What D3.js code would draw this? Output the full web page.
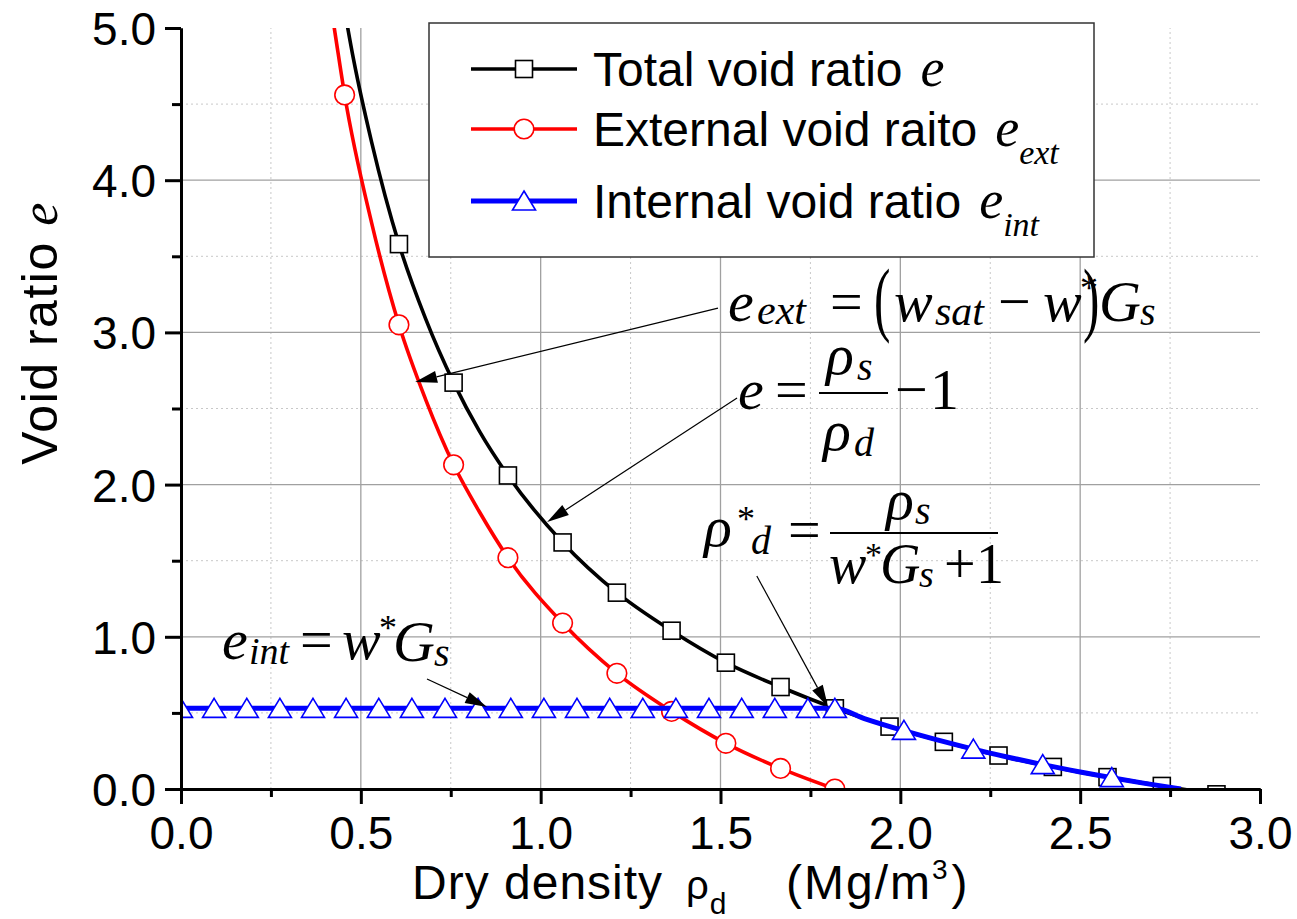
<!DOCTYPE html>
<html><head><meta charset="utf-8">
<script src="https://cdn.jsdelivr.net/npm/d3@7"></script>
<style>body{margin:0;background:#fff} svg{display:block}</style>
</head><body><svg id="c" width="1297" height="919"></svg>
<script>
// ---------------- data ----------------
const xTicks = [0.0, 0.5, 1.0, 1.5, 2.0, 2.5, 3.0];
const xMinorTicks = [0.25, 0.75, 1.25, 1.75, 2.25, 2.75];
const yTicks = [0.0, 1.0, 2.0, 3.0, 4.0, 5.0];
const yMinorTicks = [0.5, 1.5, 2.5, 3.5, 4.5];

// Total void ratio e (markers)
const rhoTotal = [0.606,0.758,0.909,1.061,1.212,1.364,1.515,1.667,1.818,1.970,2.121,2.273,2.424,2.576,2.727,2.879];
const eTotal   = [3.58,2.67,2.06,1.62,1.29,1.04,0.83,0.67,0.53,0.41,0.31,0.22,0.145,0.078,0.02,-0.035];
// Total void ratio e (line)
const rhoTotalLine = [0.44,0.48,0.53,0.606,0.68,0.758,0.83,0.909,1.061,1.212,1.364,1.515,1.667,1.818,1.970,2.121,2.273,2.424,2.576,2.727,2.879];
const eTotalLine   = [5.32,4.79,4.25,3.58,3.09,2.67,2.35,2.06,1.62,1.29,1.04,0.83,0.67,0.53,0.41,0.31,0.22,0.145,0.078,0.02,-0.035];

// External void ratio e_ext (markers)
const rhoExt = [0.455,0.606,0.758,0.909,1.061,1.212,1.364,1.515,1.667,1.818];
const eExt   = [4.56,3.05,2.13,1.52,1.09,0.76,0.51,0.30,0.135,0.0];
// External void ratio e_ext (line)
const rhoExtLine = [0.41,0.43,0.455,0.53,0.606,0.68,0.758,0.83,0.909,1.061,1.212,1.364,1.515,1.667,1.818];
const eExtLine   = [5.25,4.94,4.56,3.72,3.05,2.56,2.13,1.82,1.52,1.09,0.76,0.51,0.30,0.135,0.0];

// Internal void ratio e_int (markers)
const rhoInt = [0.000,0.092,0.183,0.275,0.367,0.459,0.550,0.642,0.734,0.826,0.917,1.009,1.101,1.192,1.284,1.376,1.468,1.559,1.651,1.743,1.818,2.010,2.203,2.396,2.588];
const eInt   = [0.53,0.53,0.53,0.53,0.53,0.53,0.53,0.53,0.53,0.53,0.53,0.53,0.53,0.53,0.53,0.53,0.53,0.53,0.53,0.53,0.53,0.385,0.262,0.160,0.075];
// Internal void ratio e_int (line)
const rhoIntLine = [0.0,1.818,1.9,2.010,2.1,2.203,2.3,2.396,2.5,2.588,2.68,2.78];
const eIntLine   = [0.53,0.53,0.463,0.383,0.324,0.262,0.209,0.160,0.112,0.074,0.037,0.0];

// ---------------- layout ----------------
const svg = d3.select('#c');
const X0 = 181, X1 = 1260, Y0 = 789, Y1 = 28;
const x = d3.scaleLinear().domain([0, 3]).range([X0, X1]);
const y = d3.scaleLinear().domain([0, 5]).range([Y0, Y1]);
const SANS = '"Liberation Sans", Arial, sans-serif';
const SERIF = '"Liberation Serif", "Times New Roman", serif';

svg.append('rect').attr('width', 1297).attr('height', 919).attr('fill', '#fff');

// grid
const grid = svg.append('g');
grid.selectAll('.vmin').data(xMinorTicks).join('line')
  .attr('x1', d => x(d)).attr('x2', d => x(d)).attr('y1', Y0).attr('y2', Y1)
  .attr('stroke', '#c8c8c8').attr('stroke-width', 1).attr('stroke-dasharray', '2,3');
grid.selectAll('.hmin').data(yMinorTicks).join('line')
  .attr('x1', X0).attr('x2', X1).attr('y1', d => y(d)).attr('y2', d => y(d))
  .attr('stroke', '#c8c8c8').attr('stroke-width', 1).attr('stroke-dasharray', '2,3');
grid.selectAll('.vmaj').data(xTicks.filter(d => d > 0 && d < 3)).join('line')
  .attr('x1', d => x(d)).attr('x2', d => x(d)).attr('y1', Y0).attr('y2', Y1)
  .attr('stroke', '#a0a0a0').attr('stroke-width', 1.3);
grid.selectAll('.hmaj').data(yTicks.filter(d => d > 0 && d < 5)).join('line')
  .attr('x1', X0).attr('x2', X1).attr('y1', d => y(d)).attr('y2', d => y(d))
  .attr('stroke', '#a0a0a0').attr('stroke-width', 1.3);

// clip
svg.append('clipPath').attr('id', 'clip').append('rect')
  .attr('x', X0).attr('y', Y1).attr('width', X1 - X0).attr('height', Y0 - Y1);
const plot = svg.append('g').attr('clip-path', 'url(#clip)');

const line = d3.line().x(d => x(d[0])).y(d => y(d[1])).curve(d3.curveMonotoneX);
const zip = (a, b) => a.map((v, i) => [v, b[i]]);
const triPath = (cx, cy) => `M${cx},${cy - 10}L${cx + 11.5},${cy + 9}L${cx - 11.5},${cy + 9}Z`;

function series(rl, el, rm, em, color, width, marker) {
  const g = plot.append('g');
  g.append('path').datum(zip(rl, el)).attr('d', line)
    .attr('fill', 'none').attr('stroke', color).attr('stroke-width', width).attr('stroke-linejoin', 'round');
  const pts = zip(rm, em);
  if (marker === 'square') {
    g.selectAll('rect').data(pts).join('rect')
      .attr('x', d => x(d[0]) - 8.5).attr('y', d => y(d[1]) - 8.5).attr('width', 17).attr('height', 17)
      .attr('fill', '#fff').attr('stroke', '#000').attr('stroke-width', 1.6);
  } else if (marker === 'circle') {
    g.selectAll('circle').data(pts).join('circle')
      .attr('cx', d => x(d[0])).attr('cy', d => y(d[1])).attr('r', 9.8)
      .attr('fill', '#fff').attr('stroke', color).attr('stroke-width', 1.6);
  } else {
    g.selectAll('path.m').data(pts).join('path').attr('class', 'm')
      .attr('d', d => triPath(x(d[0]), y(d[1])))
      .attr('fill', '#fff').attr('stroke', color).attr('stroke-width', 1.6);
  }
}
series(rhoTotalLine, eTotalLine, rhoTotal, eTotal, '#000', 3.6, 'square');
series(rhoExtLine, eExtLine, rhoExt, eExt, '#ff0000', 3.6, 'circle');
series(rhoIntLine, eIntLine, rhoInt, eInt, '#0000ff', 5, 'triangle');

// axes
const fmt = d3.format('.1f');
const axL = svg.append('g').attr('transform', `translate(${X0},0)`)
  .call(d3.axisLeft(y).tickValues(yTicks).tickFormat(fmt).tickSize(16).tickSizeOuter(0).tickPadding(9));
const axLm = svg.append('g').attr('transform', `translate(${X0},0)`)
  .call(d3.axisLeft(y).tickValues(yMinorTicks).tickFormat('').tickSize(9).tickSizeOuter(0));
const axB = svg.append('g').attr('transform', `translate(0,${Y0})`)
  .call(d3.axisBottom(x).tickValues(xTicks).tickFormat(fmt).tickSize(15).tickSizeOuter(0).tickPadding(12));
const axBm = svg.append('g').attr('transform', `translate(0,${Y0})`)
  .call(d3.axisBottom(x).tickValues(xMinorTicks).tickFormat('').tickSize(8).tickSizeOuter(0));
[axL, axLm, axB, axBm].forEach(a => {
  a.select('.domain').attr('stroke', '#000').attr('stroke-width', 3);
  a.selectAll('.tick line').attr('stroke', '#000').attr('stroke-width', 3);
  a.selectAll('text').attr('font-family', SANS).attr('font-size', 46).attr('fill', '#000');
});
axL.selectAll('text').attr('dy', '0.36em');
axB.selectAll('text').attr('dy', '0.71em');

// axis titles
const yt = svg.append('text').attr('transform', 'translate(57,333) rotate(-90)')
  .attr('text-anchor', 'middle').attr('font-family', SANS).attr('font-size', 50).attr('letter-spacing', 1.5);
yt.append('tspan').text('Void ratio ');
yt.append('tspan').attr('font-family', SERIF).attr('font-style', 'italic').attr('font-size', 52).text('e');

const xt = svg.append('text').attr('x', 412).attr('y', 899).attr('font-family', SANS).attr('font-size', 48).attr('letter-spacing', 1);
xt.append('tspan').text('Dry density');
xt.append('tspan').attr('x', 686).attr('font-size', 40).text('ρ');
xt.append('tspan').attr('dy', 15).attr('font-size', 30).text('d');
xt.append('tspan').attr('x', 786).attr('dy', -15).attr('letter-spacing', 2).text('(Mg/m');
xt.append('tspan').attr('dy', -20).attr('font-size', 28).text('3');
xt.append('tspan').attr('dx', 3).attr('dy', 20).text(')');

// legend
const lg = svg.append('g');
lg.append('rect').attr('x', 429).attr('y', 23).attr('width', 665).attr('height', 234)
  .attr('fill', '#fff').attr('stroke', '#333').attr('stroke-width', 1.5);
const legendRows = [
  {label: 'Total void ratio', sub: '', color: '#000', w: 3.6, marker: 'square', ly: 69, ty: 86},
  {label: 'External void raito', sub: 'ext', color: '#ff0000', w: 3.6, marker: 'circle', ly: 129, ty: 146},
  {label: 'Internal void ratio', sub: 'int', color: '#0000ff', w: 5, marker: 'triangle', ly: 201, ty: 218}
];
legendRows.forEach(r => {
  lg.append('line').attr('x1', 471).attr('x2', 577).attr('y1', r.ly).attr('y2', r.ly)
    .attr('stroke', r.color).attr('stroke-width', r.w);
  const cx = 524, cy = r.ly;
  if (r.marker === 'square') lg.append('rect').attr('x', cx - 8.5).attr('y', cy - 8.5).attr('width', 17).attr('height', 17)
    .attr('fill', '#fff').attr('stroke', '#000').attr('stroke-width', 1.6);
  else if (r.marker === 'circle') lg.append('circle').attr('cx', cx).attr('cy', cy).attr('r', 9.8)
    .attr('fill', '#fff').attr('stroke', r.color).attr('stroke-width', 1.6);
  else lg.append('path').attr('d', triPath(cx, cy))
    .attr('fill', '#fff').attr('stroke', r.color).attr('stroke-width', 1.6);
  const t = lg.append('text').attr('x', 593).attr('y', r.ty).attr('font-family', SANS).attr('font-size', 48);
  t.append('tspan').text(r.label);
  t.append('tspan').attr('dx', 18).attr('font-family', SERIF).attr('font-style', 'italic').attr('font-size', 54).text('e');
  if (r.sub) t.append('tspan').attr('dy', 18).attr('font-family', SERIF).attr('font-style', 'italic').attr('font-size', 34).text(r.sub);
});

// formula annotations
const ann = svg.append('g').attr('font-family', SERIF).attr('fill', '#000');
function pieces(list) {
  list.forEach(p => {
    const sx = p[5] || 1;
    ann.append('text').attr('transform', `translate(${p[1]},${p[2]}) scale(${sx},1)`)
      .attr('font-size', p[3]).attr('font-style', p[4] ? 'italic' : 'normal').text(p[0]);
  });
}
// e_ext = (w_sat - w*) G_s
pieces([
  ['e', 728, 321, 58, 1], ['ext', 757, 324, 42, 1], ['=', 830, 321, 58, 0],
  ['(', 874, 326, 82, 0, 0.6], ['w', 894, 321, 58, 1], ['sat', 935, 325, 42, 1],
  ['−', 998, 321, 58, 0], ['w', 1043, 321, 58, 1], ['*', 1080, 300, 36, 0],
  [')', 1083, 326, 82, 0, 0.6], ['G', 1099, 321, 58, 1], ['s', 1140, 325, 40, 1]
]);
// e = rho_s / rho_d - 1
pieces([
  ['e', 738, 409, 58, 1], ['=', 775, 409, 58, 0],
  ['ρ', 826, 374, 58, 1], ['s', 857, 380, 40, 1],
  ['ρ', 823, 450, 58, 1], ['d', 854, 456, 40, 1],
  ['−', 895, 409, 58, 0], ['1', 930, 409, 58, 0]
]);
ann.append('line').attr('x1', 819).attr('x2', 888).attr('y1', 393).attr('y2', 393).attr('stroke', '#000').attr('stroke-width', 2.2);
// rho*_d = rho_s / (w* G_s + 1)
pieces([
  ['ρ', 704, 546, 58, 1], ['*', 737, 531, 36, 0], ['d', 751, 554, 40, 1], ['=', 788, 549, 58, 0],
  ['ρ', 886, 519, 58, 1], ['s', 915, 524, 40, 1],
  ['w', 829, 583, 56, 1], ['*', 865, 566, 34, 0], ['G', 880, 583, 56, 1], ['s', 919, 587, 38, 1],
  ['+', 944, 583, 56, 0], ['1', 976, 583, 56, 0]
]);
ann.append('line').attr('x1', 830).attr('x2', 998).attr('y1', 533).attr('y2', 533).attr('stroke', '#000').attr('stroke-width', 2.2);
// e_int = w* G_s
pieces([
  ['e', 222, 659, 58, 1], ['int', 249, 664, 38, 1], ['=', 300, 659, 58, 0],
  ['w', 342, 659, 58, 1], ['*', 379, 640, 36, 0], ['G', 393, 661, 58, 1], ['s', 434, 666, 40, 1]
]);

// arrows (start and tip in data units)
const arrows = [
  [[1.493, 3.160], [0.651, 2.674]],
  [[1.546, 2.569], [1.018, 1.754]],
  [[1.601, 1.399], [1.799, 0.539]],
  [[0.684, 0.723], [0.851, 0.539]]
];
arrows.forEach(([s, t]) => {
  const x1 = x(s[0]), y1 = y(s[1]), x2 = x(t[0]), y2 = y(t[1]);
  const ang = Math.atan2(y2 - y1, x2 - x1), L = 22, W = 6;
  const bx = x2 - L * Math.cos(ang), by = y2 - L * Math.sin(ang);
  ann.append('line').attr('x1', x1).attr('y1', y1).attr('x2', bx).attr('y2', by)
    .attr('stroke', '#000').attr('stroke-width', 1.2);
  ann.append('path').attr('d', `M${x2},${y2}L${bx + W * Math.sin(ang)},${by - W * Math.cos(ang)}L${bx - W * Math.sin(ang)},${by + W * Math.cos(ang)}Z`)
    .attr('fill', '#000');
});
</script></body></html>
